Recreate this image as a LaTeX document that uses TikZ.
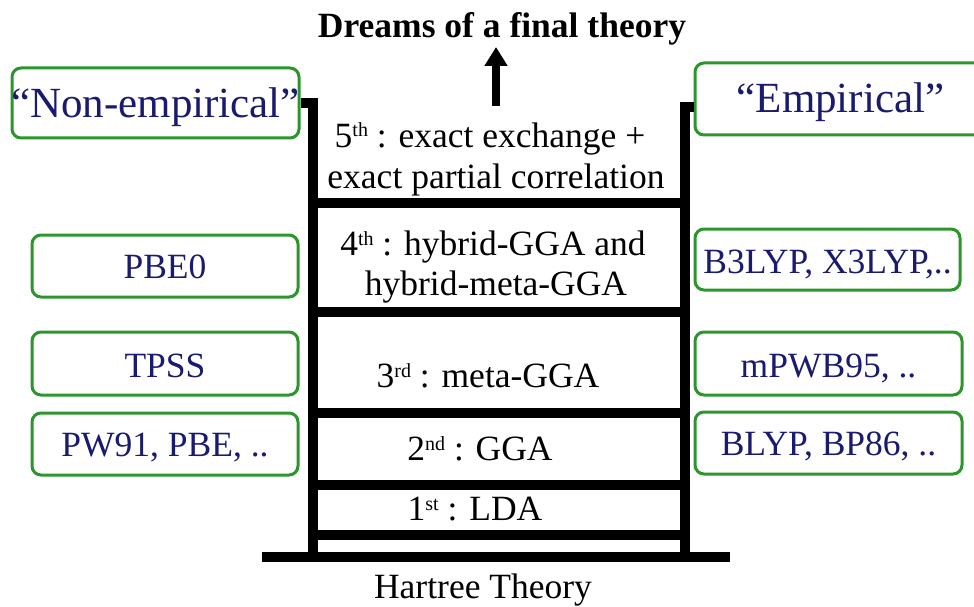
\documentclass[tikz,border=0pt]{standalone}
\usepackage{fontspec}
\setmainfont{Liberation Serif}
\usetikzlibrary{arrows.meta}
\definecolor{boxgreen}{RGB}{44,150,44}
\definecolor{navytext}{RGB}{26,26,110}
\newcommand\ordsup[1]{\raisebox{10pt}{\fontsize{20}{20}\selectfont #1}}
\newcommand\boxtext[2]{\raisebox{-#1}[0pt][0pt]{\makebox[0pt]{#2}}}
\newcommand\mainsize{\fontsize{35.5}{40}\selectfont}
\newcommand\bigsize{\fontsize{43}{48}\selectfont}
\begin{document}
\begin{tikzpicture}[x=1pt,y=-1pt,
  rail/.style={line width=10pt, line join=miter},
  fbox/.style={draw=boxgreen, line width=3pt, rounded corners=9pt, inner sep=0pt, text=navytext, font=\mainsize},
  lbl/.style={anchor=base, inner sep=0pt, font=\mainsize}]
\useasboundingbox (0,0) rectangle (974,607);
\fill[white] (0,0) rectangle (974,607);
\clip (0,0) rectangle (974,607);

% title and arrow
\node[lbl, font=\mainsize\bfseries] (title) at (502,38) {Dreams of a final theory};
\coordinate (arrfoot) at (496,106);
\coordinate (arrtip) at (496,47);
\draw[line width=8pt, -{Triangle[width=22pt,length=19pt]}] (arrfoot) -- (arrtip);

% side boxes
\node[fbox, font=\bigsize, minimum width=287pt, minimum height=70pt] (nonemp) at (155.5,103) {\boxtext{15pt}{“Non-empirical”}};
\node[fbox, font=\bigsize, minimum width=291pt, minimum height=72pt] (emp) at (840.5,99) {\boxtext{14pt}{“Empirical”}};
\node[fbox, minimum width=266pt, minimum height=62pt] (pbe0) at (165,266) {\boxtext{12pt}{PBE0}};
\node[fbox, minimum width=266pt, minimum height=63pt] (tpss) at (165,363.5) {\boxtext{13.5pt}{TPSS}};
\node[fbox, minimum width=266pt, minimum height=62pt] (pw91) at (165,444) {\boxtext{12pt}{PW91, PBE, ..}};
\node[fbox, minimum width=265pt, minimum height=61pt] (b3lyp) at (827.5,259.5) {\boxtext{13.5pt}{B3LYP, X3LYP,..}};
\node[fbox, minimum width=267pt, minimum height=63pt] (mpwb) at (828.5,363.5) {\boxtext{13.5pt}{mPWB95, ..}};
\node[fbox, minimum width=267pt, minimum height=62pt] (blyp) at (828.5,443) {\boxtext{12pt}{BLYP, BP86, ..}};

% ladder
\coordinate (lbot) at (313,557);
\coordinate (rbot) at (685,557);
\draw[rail] (nonemp.east) -- (313,103) -- (lbot);
\draw[rail] ([yshift=-8pt]emp.west) -- (685,107) -- (rbot);
\foreach \y in {203,312,413,485,535}
  \draw[rail] (313,\y) -- (685,\y);
\coordinate (baseL) at (262,557);
\coordinate (baseR) at (730,557);
\draw[rail] (baseL) -- (baseR);

% rung labels
\node[lbl] (r5a) at (490,147) {5\ordsup{th} : exact exchange +};
\node[lbl] (r5b) at (496,188) {exact partial correlation};
\node[lbl] (r4a) at (493,255) {4\ordsup{th} : hybrid-GGA and};
\node[lbl] (r4b) at (496,295) {hybrid-meta-GGA};
\node[lbl] (r3) at (488,387) {3\ordsup{rd} : meta-GGA};
\node[lbl] (r2) at (480,460) {2\ordsup{nd} : GGA};
\node[lbl] (r1) at (475,520) {1\ordsup{st} : LDA};
\node[lbl] (hartree) at (483,598) {Hartree Theory};
\end{tikzpicture}
\end{document}
